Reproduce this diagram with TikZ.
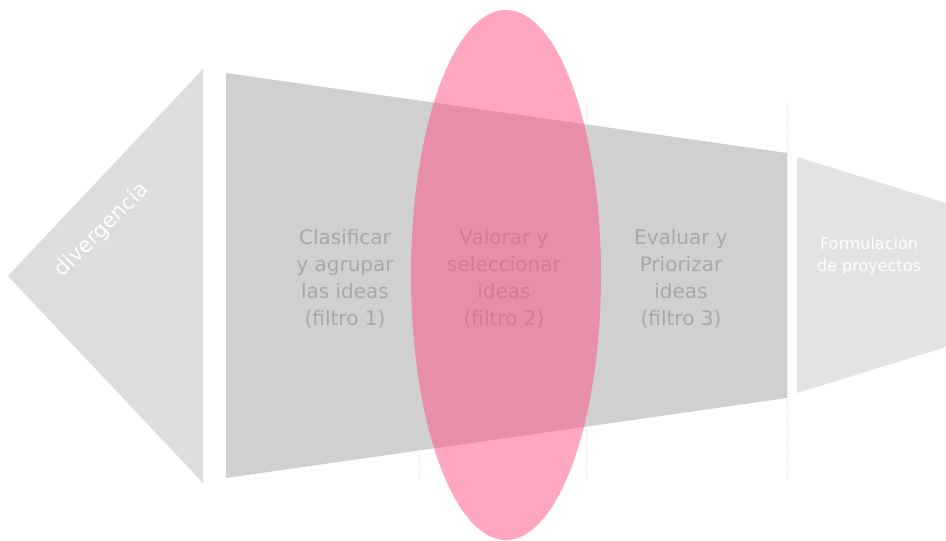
\documentclass[tikz,border=0pt]{standalone}
\usepackage{fontspec}
\setmainfont{DejaVu Sans}
\definecolor{trianglegray}{RGB}{221,221,221}
\definecolor{funnelgray}{RGB}{208,208,208}
\definecolor{outgray}{RGB}{227,227,227}
\definecolor{stepgray}{RGB}{168,168,168}
\definecolor{filterpink}{RGB}{255,80,131}
\tikzset{
  stagetext/.style={align=center, text=stepgray, font=\fontsize{20}{27}\selectfont},
  guide/.style={draw=black!15, line width=0.8pt, dotted}
}
\begin{document}
\begin{tikzpicture}[x=1pt, y=-1pt]
\def\funnelleft{226}
\def\funnelright{787}

\useasboundingbox (0,0) rectangle (946,541);

% divergencia
\draw[fill=trianglegray, draw=none] (8,276) -- (203,69) -- (203,483) -- cycle;
\node[rotate=45, text=white, font=\fontsize{21}{25}\selectfont] (divergencia) at (102,230) {divergencia};

% embudo
\draw[fill=funnelgray, draw=none] (\funnelleft,73) -- (\funnelright,153) -- (\funnelright,398) -- (\funnelleft,478) -- cycle;
\draw[fill=outgray, draw=none] (797,157) -- (946,203) -- (946,347) -- (797,393) -- cycle;

\draw[guide] (419,102) -- (419,479);
\draw[guide] (586,102) -- (586,479);
\draw[guide] (\funnelright,102) -- (\funnelright,479);

\node[stagetext] (clasificar) at (345,279) {Clasificar\\y agrupar\\las ideas\\(filtro 1)};
\node[stagetext] (valorar) at (504,279) {Valorar y\\seleccionar\\ideas\\(filtro 2)};
\node[stagetext] (evaluar) at (681,279) {Evaluar y\\Priorizar\\ideas\\(filtro 3)};
\node[align=center, text=white, font=\fontsize{16}{22}\selectfont] (formulacion) at (869,256) {Formulación\\de proyectos};

% filtro
\fill[filterpink, opacity=0.5] (506,275) ellipse [x radius=95, y radius=265];
\end{tikzpicture}
\end{document}
